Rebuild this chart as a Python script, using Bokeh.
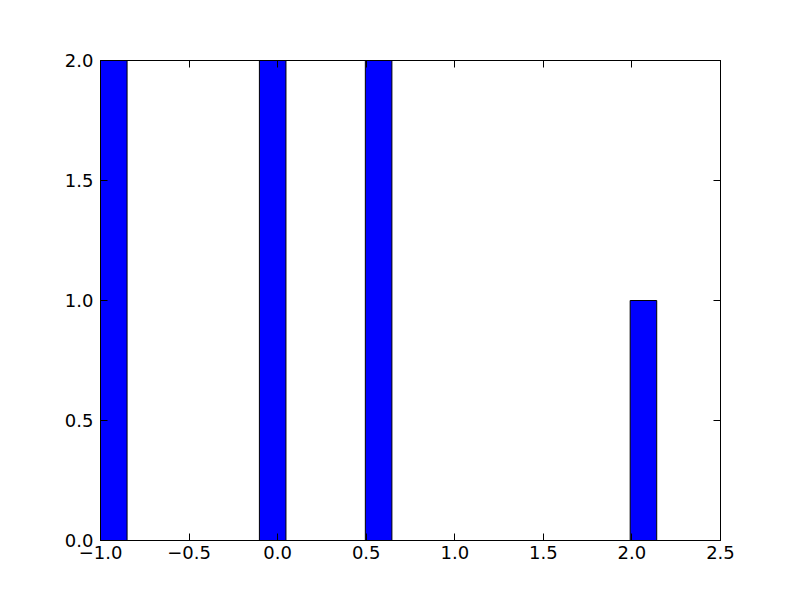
from bokeh.plotting import figure
from bokeh.models import Range1d, FixedTicker, LinearAxis, ColumnDataSource
from bokeh.embed import file_html
from bokeh.resources import INLINE

# Histogram bins
bin_left = [-1.0, -0.103, 0.495, 1.99]
bin_right = [-0.85, 0.047, 0.645, 2.14]
counts = [2, 2, 2, 1]

x_ticks = [-1.0, -0.5, 0.0, 0.5, 1.0, 1.5, 2.0, 2.5]
y_ticks = [0.0, 0.5, 1.0, 1.5, 2.0]


def fmt(v):
    s = "%.1f" % abs(v)
    return ("\u2212" + s) if v < 0 else s


src = ColumnDataSource(dict(left=bin_left, right=bin_right, top=counts,
                            bottom=[0] * len(counts)))

p = figure(width=784, height=584, output_backend="svg", toolbar_location=None,
           x_range=Range1d(-1.0, 2.5), y_range=Range1d(0, 2.0),
           min_border_left=100, min_border_right=64, min_border_top=60,
           min_border_bottom=44, x_axis_location=None, y_axis_location=None)
p.grid.visible = False
p.outline_line_color = "black"
p.outline_line_width = 1
p.background_fill_color = "white"
p.border_fill_color = "white"

p.quad(left="left", right="right", top="top", bottom="bottom", source=src,
       fill_color="#0000ff", line_color="black", line_width=1)

FONT = "DejaVu Sans"


def style(ax, ticks, labels=True):
    ax.ticker = FixedTicker(ticks=ticks)
    ax.major_label_overrides = {t: fmt(t) for t in ticks}
    ax.major_tick_in = 7
    ax.major_tick_out = 0
    ax.minor_tick_in = 0
    ax.minor_tick_out = 0
    ax.axis_line_color = "black"
    ax.major_tick_line_color = "black"
    ax.major_label_text_font = FONT
    ax.major_label_text_font_size = "18px"
    ax.major_label_text_color = "black" if labels else None
    ax.major_label_standoff = 5


xb = LinearAxis()
style(xb, x_ticks)
p.add_layout(xb, "below")
yl = LinearAxis()
style(yl, y_ticks)
yl.major_label_standoff = 7
p.add_layout(yl, "left")
xt = LinearAxis()
style(xt, x_ticks, labels=False)
p.add_layout(xt, "above")
yr = LinearAxis()
style(yr, y_ticks, labels=False)
p.add_layout(yr, "right")

open("out.html", "w").write(file_html(p, INLINE))
